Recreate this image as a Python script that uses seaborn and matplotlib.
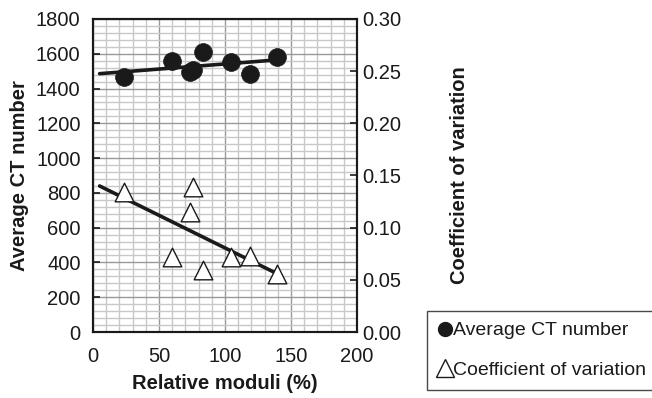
import numpy as np
import pandas as pd
import seaborn as sns
import matplotlib
matplotlib.use("Agg")
import matplotlib.pyplot as plt
from matplotlib.lines import Line2D
from matplotlib.ticker import MultipleLocator, FormatStrFormatter

sns.set_style("white")
plt.rcParams['font.family'] = ['Liberation Sans', 'DejaVu Sans']

# Data
relative_moduli = [23.7, 59.6, 73.5, 76.0, 83.6, 104.3, 119.0, 139.6]
average_ct = [1468, 1558, 1497, 1505, 1612, 1554, 1484, 1583]
coef_variation = [0.134, 0.072, 0.115, 0.139, 0.059, 0.072, 0.073, 0.056]
trend_x_start = 5

df = pd.DataFrame({"x": relative_moduli, "ct": average_ct, "cv": coef_variation})

fig = plt.figure(figsize=(6.52, 3.98), dpi=100)
ax = fig.add_axes([93/652, 1-332/398, 264/652, 313/398])
ax2 = ax.twinx()

ink = "#1a1a1a"

# Grid
ax.set_xlim(0, 200)
ax.set_ylim(0, 1800)
ax2.set_ylim(0, 0.30)
ax.xaxis.set_major_locator(MultipleLocator(50))
ax.xaxis.set_minor_locator(MultipleLocator(10))
ax.yaxis.set_major_locator(MultipleLocator(200))
ax.yaxis.set_minor_locator(MultipleLocator(40))
ax2.yaxis.set_major_locator(MultipleLocator(0.05))
ax.grid(which="minor", color="#c8c8c8", linewidth=1.0, zorder=0)
ax.grid(which="major", color="#999999", linewidth=1.0, zorder=0)
ax.set_axisbelow(True)

# Trend lines (least squares)
xs = np.array([trend_x_start, max(relative_moduli)])
p_ct = np.polyfit(relative_moduli, average_ct, 1)
p_cv = np.polyfit(relative_moduli, coef_variation, 1)
ax.plot(xs, np.polyval(p_ct, xs), color=ink, lw=2.6, zorder=3)
ax2.plot(xs, np.polyval(p_cv, xs), color=ink, lw=2.6, zorder=3)

sns.scatterplot(data=df, x="x", y="ct", ax=ax, marker="o", s=165,
                color=ink, edgecolor=ink, linewidth=0.5, zorder=4, legend=False)
sns.scatterplot(data=df, x="x", y="cv", ax=ax2, marker="^", s=180,
                facecolor="white", edgecolor=ink, linewidth=1.0, zorder=4, legend=False)

fs = 14.5
for a in (ax, ax2):
    for s in a.spines.values():
        s.set_color(ink)
        s.set_linewidth(1.5)
ax.tick_params(axis="both", which="major", direction="in", length=5, width=1.2,
               color=ink, labelsize=fs, labelcolor=ink)
ax.tick_params(axis="both", which="minor", length=0)
ax.tick_params(axis="x", pad=11)
ax.tick_params(axis="y", pad=9)
ax2.tick_params(axis="y", direction="in", length=5, width=1.2, color=ink,
                labelsize=fs, labelcolor=ink, pad=4)
ax2.yaxis.set_major_formatter(FormatStrFormatter("%.2f"))

ax.set_xlabel("Relative moduli (%)", fontsize=fs, fontweight="bold", color=ink)
ax.set_ylabel("Average CT number", fontsize=fs, fontweight="bold", color=ink)
ax2.set_ylabel("Coefficient of variation", fontsize=fs, fontweight="bold", color=ink)
ax.xaxis.set_label_coords(0.5, -0.135)
ax.yaxis.set_label_coords(-0.244, 0.5)
ax2.yaxis.set_label_coords(1.352, 0.5)

handles = [
    Line2D([], [], marker="o", linestyle="none", markersize=10,
           markerfacecolor=ink, markeredgecolor=ink),
    Line2D([], [], marker="^", linestyle="none", markersize=13,
           markerfacecolor="white", markeredgecolor=ink, markeredgewidth=1.0),
]
leg_fs = 14
leg = fig.legend(handles, ["Average CT number", "Coefficient of variation"],
                 loc="upper left", bbox_to_anchor=(427/652, 1-311/398),
                 bbox_transform=fig.transFigure, borderaxespad=0,
                 frameon=True, fancybox=False, fontsize=leg_fs,
                 handlelength=0.7, handletextpad=0.1, labelspacing=1.15,
                 borderpad=0.55)
leg.get_frame().set_edgecolor(ink)
leg.get_frame().set_linewidth(1.0)
for t in leg.get_texts():
    t.set_color(ink)

fig.savefig("out.png", dpi=100)
